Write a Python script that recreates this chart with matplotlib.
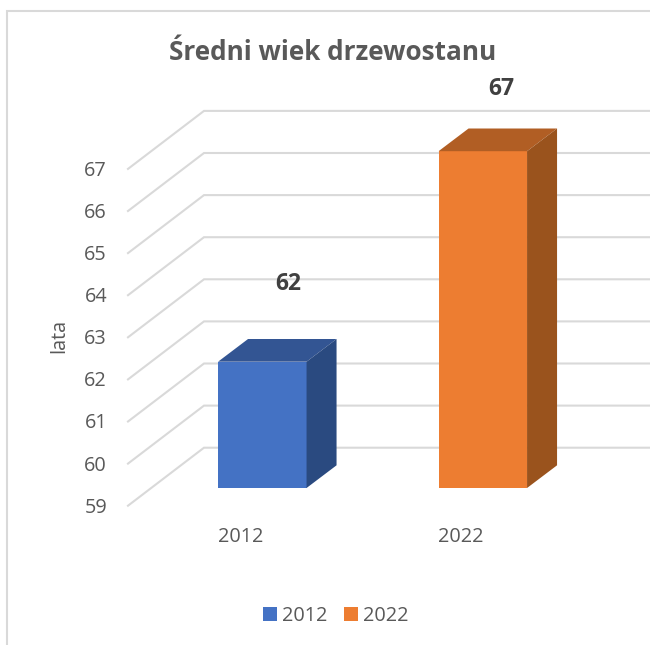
import matplotlib
matplotlib.use('Agg')
import matplotlib.pyplot as plt
from matplotlib.lines import Line2D
from matplotlib.patches import Polygon

plt.rcParams['font.family'] = ['Open Sans', 'DejaVu Sans']

title = 'Średni wiek drzewostanu'
ylabel = 'lata'
years = ['2012', '2022']
values = [62, 67]
yticks = [59, 60, 61, 62, 63, 64, 65, 66, 67]
front_colors = ['#4472C4', '#ED7D31']
top_colors = ['#335593', '#B15E24']
side_colors = ['#2A4A80', '#9A531D']

W, H = 650, 645
# pixel layout of the front plane of the bars
x0_px, x_step = 262.3, 220.5
y0_px, y_step = 488.0, 42.1
bar_w = 88.5 / x_step
depth_x = 30 / x_step
depth_y = 22.7 / y_step
# the data labels were dragged by hand in the original, offsets in px
label_dx = [26, 19]
label_dy = [78, 62]

fig = plt.figure(figsize=(W / 100, H / 100), dpi=100)
ax = fig.add_axes([0, 0, 1, 1])
ax.set_xlim(-x0_px / x_step, (W - x0_px) / x_step)
ax.set_ylim(59 - (H - y0_px) / y_step, 59 + y0_px / y_step)
ax.axis('off')

# walls: side wall runs from the tick end to the back, then along the back
wall_x = [(128 - x0_px) / x_step, (204 - x0_px) / x_step, (W - x0_px) / x_step]
for t in yticks:
    ys = [t - 17.7 / y_step, t + 40.3 / y_step, t + 40.3 / y_step]
    ax.plot(wall_x, ys, color='#d9d9d9', lw=1.5, zorder=1, solid_joinstyle='miter')
    ax.text((107 - x0_px) / x_step, t - 19.7 / y_step, str(t), ha='right', va='center',
            fontsize=14.3, color='#595959')

for i, v in enumerate(values):
    l = i - bar_w / 2
    r = i + bar_w / 2
    ax.bar(i, v - 59, bar_w, bottom=59, color=front_colors[i], label=years[i], zorder=3)
    ax.add_patch(Polygon([(l, v), (r, v), (r + depth_x, v + depth_y), (l + depth_x, v + depth_y)],
                         closed=True, color=top_colors[i], lw=0, zorder=3))
    ax.add_patch(Polygon([(r, 59), (r, v), (r + depth_x, v + depth_y), (r + depth_x, 59 + depth_y)],
                         closed=True, color=side_colors[i], lw=0, zorder=3))
    ax.text(i - 22 / x_step, 59 - 48.5 / y_step, years[i], ha='center', va='center',
            fontsize=14.3, color='#595959')
    ax.text(i + label_dx[i] / x_step, v + label_dy[i] / y_step, str(v),
            ha='center', va='center', fontsize=16.5, fontweight='bold', color='#404040')

fig.text(333 / W, 1 - 53 / H, title, ha='center', va='center', fontsize=18.8,
         fontweight='bold', color='#595959')
fig.text(59 / W, 1 - 336 / H, ylabel, ha='center', va='center', rotation=90,
         fontsize=14.3, color='#595959')

ax.legend(loc='center', bbox_to_anchor=(336 / W, 1 - 616 / H), bbox_transform=fig.transFigure,
          ncol=2, frameon=False, fontsize=14.3, labelcolor='#595959', handlelength=0.7,
          handleheight=0.7, handletextpad=0.25, columnspacing=0.85, borderpad=0)

# outer chart border, cropped at right and bottom
fig.add_artist(Line2D([7 / W, 7 / W, 1], [0, 1 - 10.5 / H, 1 - 10.5 / H], color='#d9d9d9', lw=1.5,
                      solid_joinstyle='miter'))

fig.savefig('out.png', dpi=100)
